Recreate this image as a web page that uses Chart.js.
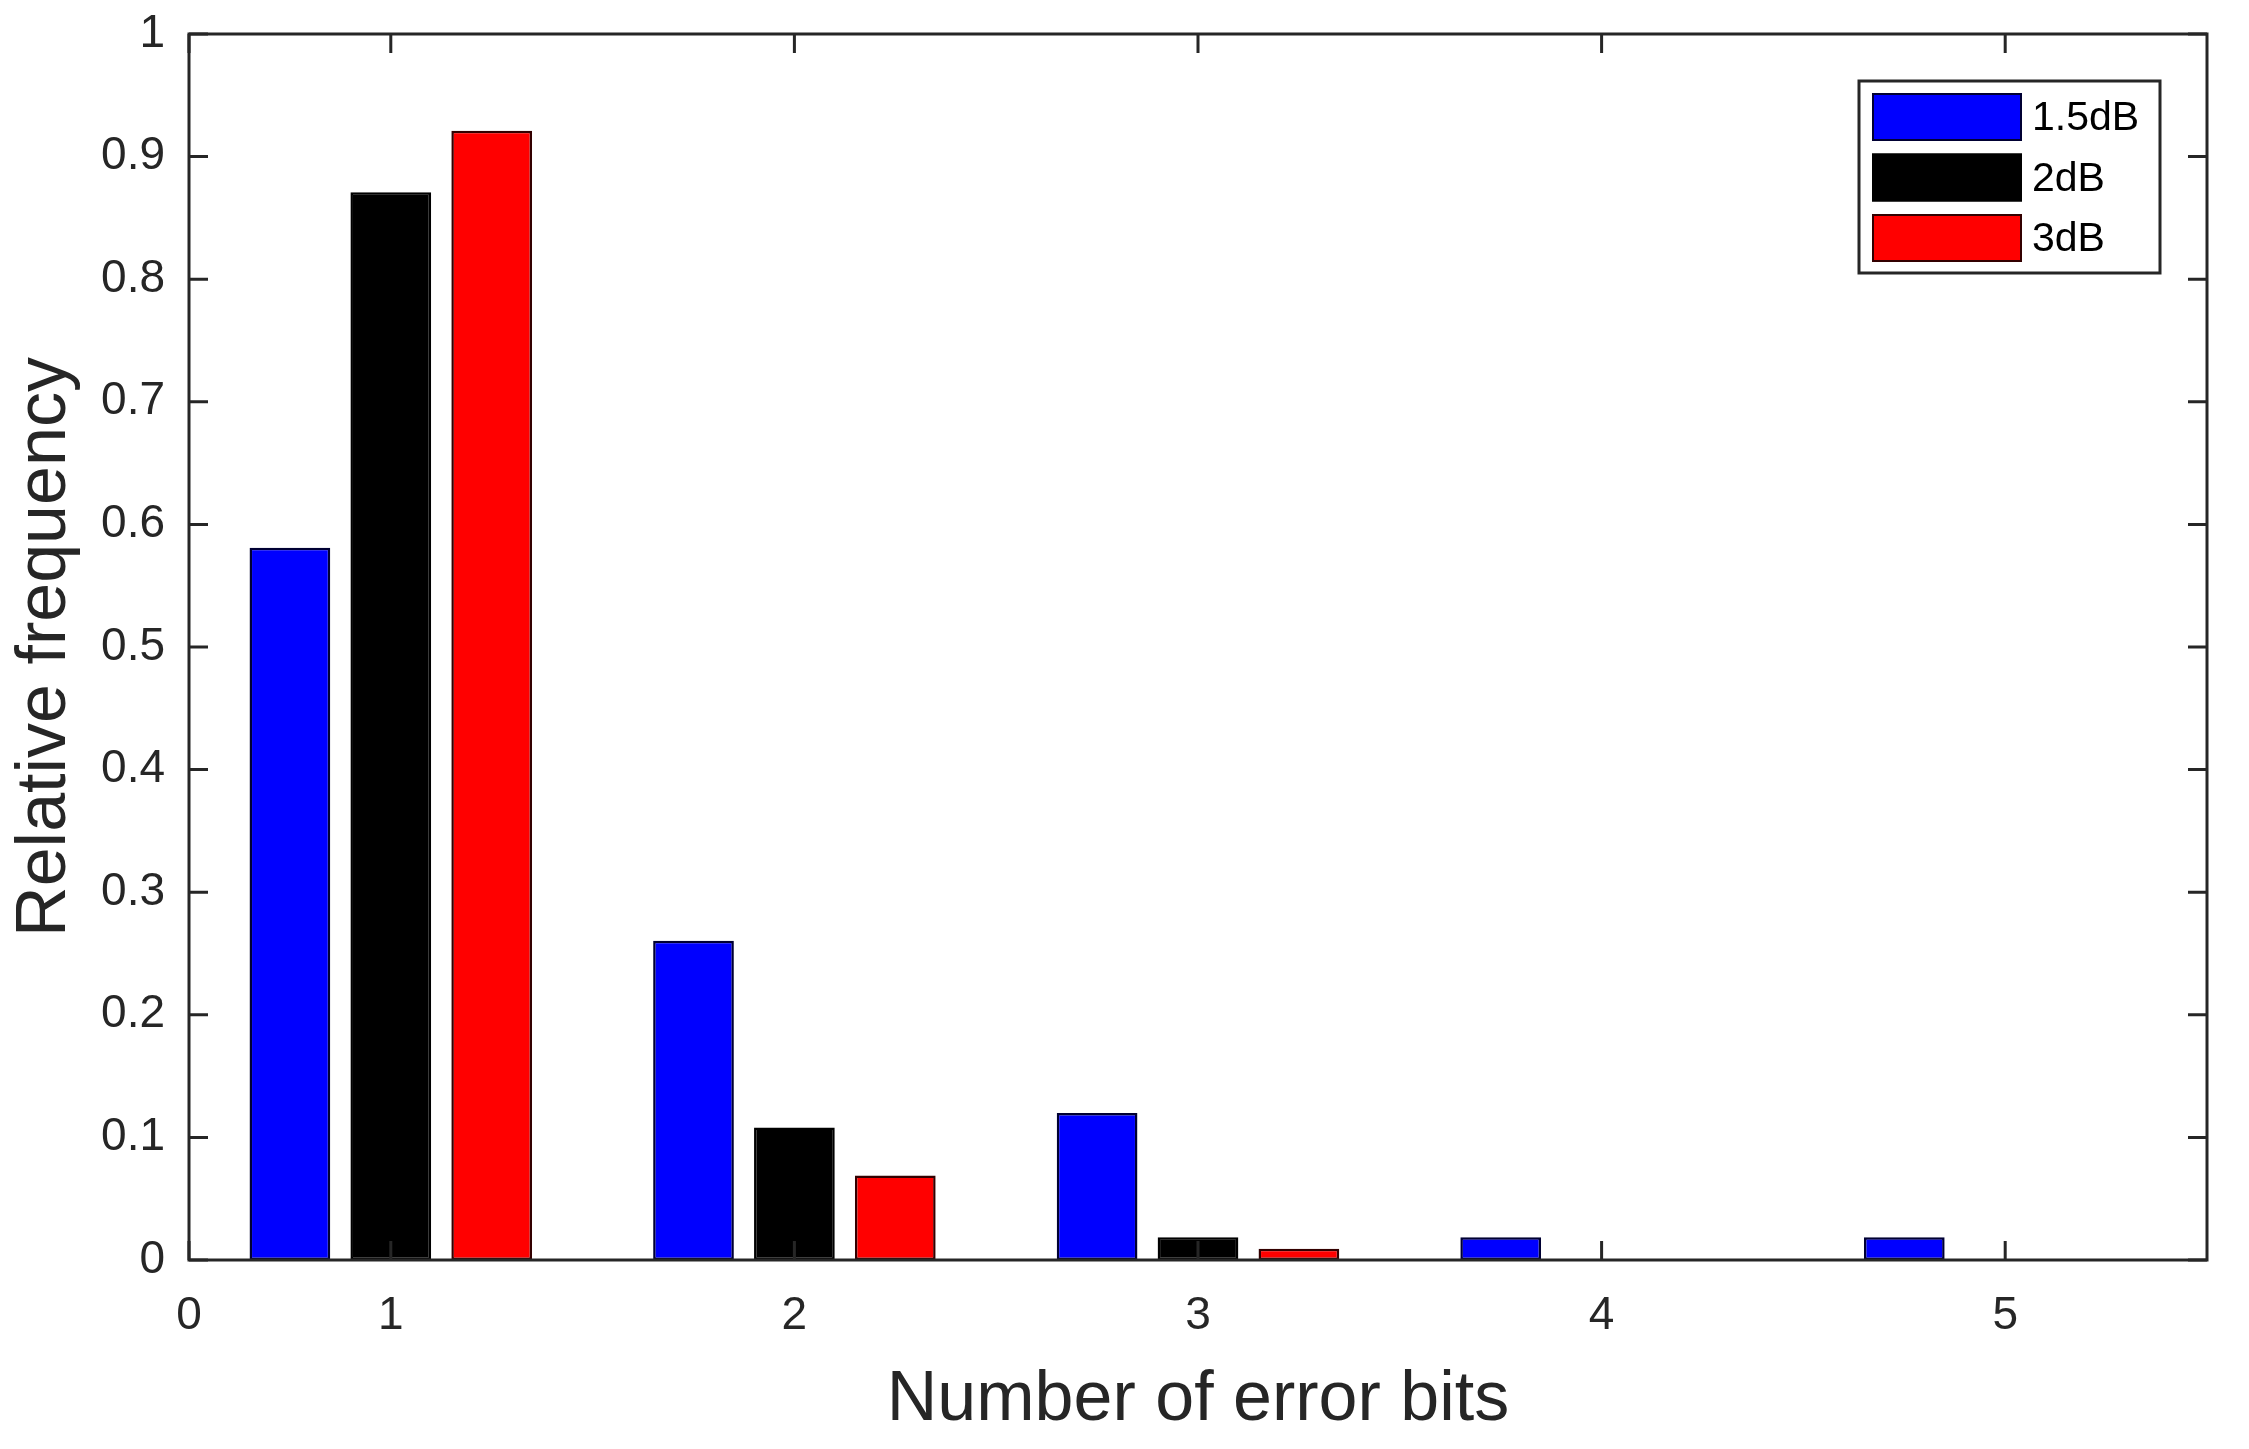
<!DOCTYPE html>
<html><head><meta charset="utf-8">
<script src="https://cdn.jsdelivr.net/npm/chart.js@4.4.0/dist/chart.umd.min.js"></script>
<style>html,body{margin:0;padding:0;background:#fff;} canvas{display:block;}</style>
</head><body>
<canvas id="c" width="2249" height="1449"></canvas>
<script>
// ---- data ----
const categories = [1, 2, 3, 4, 5];
const seriesNames = ['1.5dB', '2dB', '3dB'];
const series15dB = [0.581, 0.2605, 0.120, 0.0185, 0.0185];
const series2dB  = [0.871, 0.108, 0.0185, 0, 0];
const series3dB  = [0.921, 0.069, 0.0092, 0, 0];
const xTickValues = [0.5, 1, 2, 3, 4, 5];
const xTickLabels = ['0', '1', '2', '3', '4', '5'];
const yTickValues = [0, 0.1, 0.2, 0.3, 0.4, 0.5, 0.6, 0.7, 0.8, 0.9, 1];
const yTickLabels = ['0', '0.1', '0.2', '0.3', '0.4', '0.5', '0.6', '0.7', '0.8', '0.9', '1'];
const xTitle = 'Number of error bits';
const yTitle = 'Relative frequency';

const FONT = "'Liberation Sans', Arial, sans-serif";
const AXC = '#262626';

const framePlugin = {
  id: 'frame',
  afterDatasetsDraw(chart) {
    const {ctx, chartArea: a, scales} = chart;
    const tl = 19;
    ctx.save();
    ctx.strokeStyle = AXC;
    ctx.lineWidth = 3;
    ctx.beginPath();
    yTickValues.forEach(v => {
      const y = scales.y.getPixelForValue(v);
      ctx.moveTo(a.left, y); ctx.lineTo(a.left + tl, y);
      ctx.moveTo(a.right, y); ctx.lineTo(a.right - tl, y);
    });
    xTickValues.forEach(v => {
      const x = scales.x.getPixelForValue(v);
      ctx.moveTo(x, a.bottom); ctx.lineTo(x, a.bottom - tl);
      ctx.moveTo(x, a.top); ctx.lineTo(x, a.top + tl);
    });
    ctx.stroke();
    ctx.strokeRect(a.left, a.top, a.right - a.left, a.bottom - a.top);
    ctx.restore();
  }
};

const legendPlugin = {
  id: 'boxLegend',
  afterDraw(chart) {
    const {ctx, chartArea: a} = chart;
    const bx = a.right - 348, by = a.top + 47, bw = 301, bh = 192;
    ctx.save();
    ctx.fillStyle = '#fff';
    ctx.fillRect(bx, by, bw, bh);
    ctx.strokeStyle = AXC;
    ctx.lineWidth = 3;
    ctx.strokeRect(bx, by, bw, bh);
    chart.data.datasets.forEach((ds, i) => {
      const cy = by + 36 + i * 60.5;
      const sx = bx + 13, sw = 150, sh = 48;
      ctx.fillStyle = ds.backgroundColor;
      ctx.fillRect(sx, cy - sh / 2, sw, sh);
      ctx.lineWidth = 2;
      ctx.strokeStyle = ds.borderColor;
      ctx.strokeRect(sx + 1, cy - sh / 2 + 1, sw - 2, sh - 2);
      ctx.fillStyle = '#000';
      ctx.font = '41px ' + FONT;
      ctx.textBaseline = 'middle';
      ctx.textAlign = 'left';
      ctx.fillText(ds.label, sx + sw + 10, cy + 2);
    });
    ctx.restore();
  }
};

const colors = ['#0000ff', '#000000', '#ff0000'];
const edges = ['#000033', '#000000', '#330000'];
const allSeries = [series15dB, series2dB, series3dB];

new Chart(document.getElementById('c'), {
  type: 'bar',
  data: {
    labels: categories,
    datasets: allSeries.map((d, i) => ({
      label: seriesNames[i],
      data: d,
      backgroundColor: colors[i],
      borderColor: edges[i],
      borderWidth: 2.5,
      borderSkipped: false,
      // ruler spacing is 0.5 units (tick at 0.5), so 1.5 x 0.5 = 0.75 units per group
      categoryPercentage: 1.5,
      barPercentage: 0.8
    }))
  },
  options: {
    responsive: false,
    animation: false,
    devicePixelRatio: 1,
    layout: { padding: { top: 34, right: 42, left: 0, bottom: 0 } },
    plugins: { legend: { display: false }, tooltip: { enabled: false } },
    scales: {
      x: {
        type: 'linear',
        min: 0.5, max: 5.5,
        offset: false,
        grid: { display: false, drawTicks: false },
        border: { display: false },
        afterBuildTicks: s => { s.ticks = xTickValues.map(v => ({ value: v })); },
        afterFit: s => { s.height = 189; s.paddingLeft = 0; s.paddingRight = 0; },
        ticks: {
          autoSkip: false, maxRotation: 0, padding: 29,
          color: AXC, font: { family: FONT, size: 46 },
          callback: (v, i) => xTickLabels[i]
        },
        title: { display: true, text: xTitle, color: AXC,
          font: { family: FONT, size: 70, lineHeight: 1 }, padding: { top: 0, bottom: 13 } }
      },
      y: {
        min: 0, max: 1,
        grid: { display: false, drawTicks: false },
        border: { display: false },
        afterBuildTicks: s => { s.ticks = yTickValues.map(v => ({ value: v })); },
        afterFit: s => { s.width = 189; s.paddingTop = 0; s.paddingBottom = 0; },
        ticks: {
          padding: 24, color: AXC, font: { family: FONT, size: 46 },
          callback: (v, i) => yTickLabels[i]
        },
        title: { display: true, text: yTitle, color: AXC,
          font: { family: FONT, size: 70, lineHeight: 1 }, padding: { top: 11, bottom: 0 } }
      }
    }
  },
  plugins: [framePlugin, legendPlugin]
});
</script>
</body></html>
